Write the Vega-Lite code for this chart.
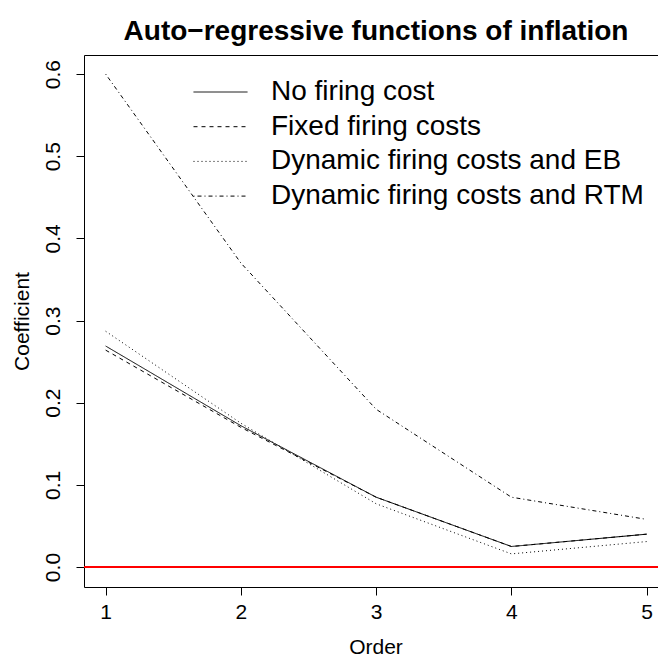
{
  "$schema": "https://vega.github.io/schema/vega-lite/v6.json",
  "width": 574,
  "height": 532,
  "autosize": {"type": "none"},
  "padding": {"left": 84, "top": 55, "right": 0, "bottom": 69},
  "background": "white",
  "config": {
    "view": {"stroke": null},
    "font": "Liberation Sans",
    "axis": {"grid": false, "domainColor": "black", "tickColor": "black", "labelColor": "black", "titleColor": "black", "domainWidth": 1, "tickWidth": 1}
  },
  "title": {"text": "Auto−regressive functions of inflation", "fontSize": 28, "fontWeight": "bold", "font": "Liberation Sans", "anchor": "middle", "frame": "group", "baseline": "alphabetic", "offset": 15, "dx": 5, "dy": 28, "color": "black"},
  "data": {"values": [
    {"series": "No firing cost", "order": 1, "coef": 0.269},
    {"series": "No firing cost", "order": 2, "coef": 0.172},
    {"series": "No firing cost", "order": 3, "coef": 0.085},
    {"series": "No firing cost", "order": 4, "coef": 0.025},
    {"series": "No firing cost", "order": 5, "coef": 0.040},
    {"series": "Fixed firing costs", "order": 1, "coef": 0.264},
    {"series": "Fixed firing costs", "order": 2, "coef": 0.170},
    {"series": "Fixed firing costs", "order": 3, "coef": 0.085},
    {"series": "Fixed firing costs", "order": 4, "coef": 0.025},
    {"series": "Fixed firing costs", "order": 5, "coef": 0.040},
    {"series": "Dynamic firing costs and EB", "order": 1, "coef": 0.287},
    {"series": "Dynamic firing costs and EB", "order": 2, "coef": 0.175},
    {"series": "Dynamic firing costs and EB", "order": 3, "coef": 0.077},
    {"series": "Dynamic firing costs and EB", "order": 4, "coef": 0.016},
    {"series": "Dynamic firing costs and EB", "order": 5, "coef": 0.031},
    {"series": "Dynamic firing costs and RTM", "order": 1, "coef": 0.600},
    {"series": "Dynamic firing costs and RTM", "order": 2, "coef": 0.370},
    {"series": "Dynamic firing costs and RTM", "order": 3, "coef": 0.192},
    {"series": "Dynamic firing costs and RTM", "order": 4, "coef": 0.085},
    {"series": "Dynamic firing costs and RTM", "order": 5, "coef": 0.058}
  ]},
  "layer": [
    {
      "mark": {"type": "line", "color": "black", "strokeWidth": 1},
      "encoding": {
        "x": {"field": "order", "type": "quantitative",
          "scale": {"domain": [0.84, 5.084], "nice": false, "zero": false},
          "axis": {"values": [1, 2, 3, 4, 5], "format": "d", "tickSize": 8, "labelFontSize": 21, "labelBaseline": "alphabetic", "labelPadding": 23.5, "labelFlush": false, "title": "Order", "titleFontSize": 21, "titleFontWeight": "normal", "titleBaseline": "alphabetic", "titleX": 291.5, "titleY": 66}},
        "y": {"field": "coef", "type": "quantitative",
          "scale": {"domain": [-0.0243, 0.6232], "nice": false, "zero": false},
          "axis": {"values": [0, 0.1, 0.2, 0.3, 0.4, 0.5, 0.6], "format": ".1f", "tickSize": 8, "labelAngle": -90, "labelAlign": "center", "labelBaseline": "alphabetic", "labelPadding": 17, "labelFontSize": 21, "labelFlush": false, "title": "Coefficient", "titleFontSize": 21, "titleFontWeight": "normal", "titleAngle": -90, "titleBaseline": "alphabetic", "titleAlign": "center", "titleX": -55.5, "titleY": 266}},
        "strokeDash": {"field": "series", "type": "nominal",
          "scale": {"domain": ["No firing cost", "Fixed firing costs", "Dynamic firing costs and EB", "Dynamic firing costs and RTM"], "range": [[1, 0], [4, 4], [1, 3], [1, 3, 4, 3]]},
          "legend": {"orient": "none", "legendX": 122.5, "legendY": 23, "title": null, "labelFontSize": 28, "labelFont": "Liberation Sans", "labelColor": "black", "symbolType": "M-2,0H2", "symbolSize": 729, "symbolStrokeColor": "black", "symbolStrokeWidth": 1, "labelOffset": 36.5, "rowPadding": 6.7, "padding": 0, "symbolOffset": 0, "labelLimit": 0}}
      }
    },
    {
      "mark": {"type": "rule", "color": "red", "strokeWidth": 1},
      "encoding": {"y": {"datum": 0}}
    },
    {
      "mark": {"type": "point", "opacity": 0},
      "encoding": {
        "x": {"field": "order", "type": "quantitative", "axis": {"orient": "top", "labels": false, "ticks": false, "title": null, "domain": true}}
      }
    }
  ],
  "resolve": {"axis": {"x": "independent"}}
}
